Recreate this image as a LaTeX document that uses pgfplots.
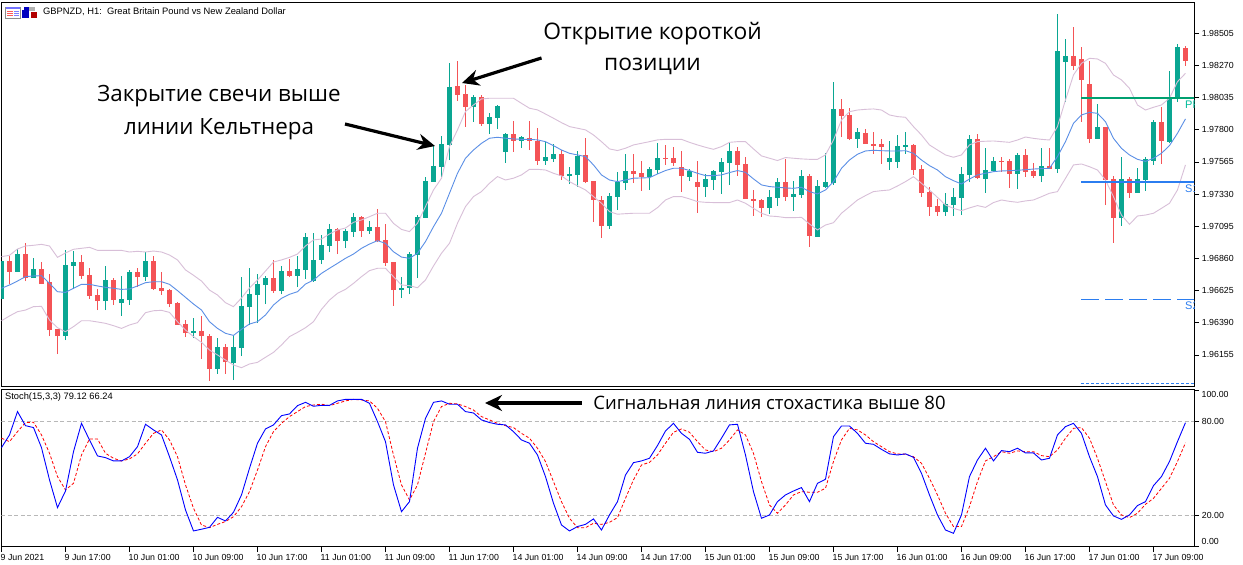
\documentclass[border=0pt]{standalone}
\usepackage{fontspec}
\usepackage{pgfplots}
\usepackage{pgfplotstable}
\pgfplotsset{compat=1.18}
\usetikzlibrary{arrows.meta}
\setmainfont{Liberation Sans}
\newfontfamily\annot{Open Sans}
\definecolor{upc}{HTML}{0AA692}
\definecolor{downc}{HTML}{F45356}
\definecolor{midc}{HTML}{5B8FE6}
\definecolor{bandc}{HTML}{D8BFD8}
\definecolor{ppc}{HTML}{00A070}
\definecolor{sc}{HTML}{2B7DF0}
\pgfplotstableread{
i O H L C
0 1.96564 1.96841 1.96564 1.96841
2 1.96761 1.96929 1.96761 1.96892
4 1.96717 1.96863 1.96717 1.96783
8 1.96293 1.96922 1.96264 1.96812
9 1.96805 1.96914 1.96637 1.96834
13 1.96549 1.96805 1.96483 1.96702
15 1.96534 1.96732 1.96440 1.96564
16 1.96556 1.96776 1.96520 1.96761
18 1.96724 1.96907 1.96695 1.96841
24 1.96315 1.96425 1.96279 1.96330
27 1.96052 1.96279 1.96016 1.96213
29 1.96096 1.96301 1.95972 1.96213
30 1.96206 1.96724 1.96147 1.96513
31 1.96505 1.96790 1.96374 1.96600
32 1.96593 1.96746 1.96388 1.96673
33 1.96666 1.96732 1.96527 1.96717
35 1.96622 1.96805 1.96600 1.96768
37 1.96732 1.96878 1.96651 1.96783
38 1.96776 1.97046 1.96710 1.97017
39 1.96695 1.97046 1.96688 1.96849
40 1.96849 1.97031 1.96819 1.96958
41 1.96951 1.97112 1.96907 1.97075
43 1.96987 1.97075 1.96936 1.97060
44 1.97053 1.97192 1.97017 1.97163
46 1.97060 1.97133 1.97039 1.97090
50 1.96629 1.96724 1.96571 1.96644
51 1.96644 1.96907 1.96600 1.96892
52 1.96885 1.97177 1.96717 1.97163
53 1.97156 1.97455 1.97156 1.97426
54 1.97419 1.97689 1.97419 1.97536
55 1.97528 1.97755 1.97455 1.97696
56 1.97689 1.98288 1.97579 1.98113
59 1.97967 1.98054 1.97857 1.98040
61 1.97842 1.97923 1.97769 1.97894
62 1.97886 1.97981 1.97806 1.97974
63 1.97638 1.97777 1.97558 1.97769
65 1.97718 1.97755 1.97667 1.97747
68 1.97572 1.97711 1.97543 1.97601
69 1.97587 1.97696 1.97565 1.97623
71 1.97463 1.97528 1.97404 1.97477
72 1.97470 1.97645 1.97382 1.97609
76 1.97097 1.97338 1.97075 1.97316
77 1.97309 1.97492 1.97214 1.97419
78 1.97411 1.97623 1.97360 1.97499
81 1.97455 1.97528 1.97360 1.97514
82 1.97506 1.97704 1.97477 1.97594
86 1.97455 1.97514 1.97426 1.97499
88 1.97382 1.97477 1.97309 1.97441
89 1.97433 1.97506 1.97360 1.97499
90 1.97492 1.97594 1.97331 1.97565
91 1.97558 1.97704 1.97397 1.97645
96 1.97229 1.97360 1.97185 1.97309
97 1.97302 1.97448 1.97243 1.97419
99 1.97309 1.97426 1.97207 1.97331
100 1.97324 1.97506 1.97302 1.97462
102 1.97017 1.97433 1.97017 1.97389
103 1.97382 1.97630 1.97375 1.97418
104 1.97411 1.98149 1.97397 1.97952
107 1.97733 1.97813 1.97667 1.97784
111 1.97565 1.97718 1.97506 1.97594
112 1.97565 1.97762 1.97521 1.97681
113 1.97674 1.97784 1.97623 1.97689
118 1.97199 1.97338 1.97170 1.97258
119 1.97250 1.97375 1.97170 1.97309
120 1.97302 1.97528 1.97177 1.97477
121 1.97470 1.97762 1.97418 1.97733
123 1.97440 1.97667 1.97338 1.97506
124 1.97499 1.97601 1.97492 1.97572
127 1.97477 1.97630 1.97367 1.97616
130 1.97462 1.97667 1.97418 1.97535
132 1.97513 1.98646 1.97484 1.98375
133 1.98295 1.98463 1.98003 1.98339
137 1.97733 1.97988 1.97733 1.97820
140 1.97156 1.97601 1.97097 1.97440
142 1.97338 1.97521 1.97338 1.97440
143 1.97433 1.97601 1.97353 1.97587
144 1.97572 1.97871 1.97543 1.97857
146 1.97711 1.98229 1.97703 1.98032
147 1.98032 1.98427 1.98003 1.98405
}\upcandles
\pgfplotstableread{
i O H L C
1 1.96841 1.96878 1.96673 1.96761
3 1.96892 1.96973 1.96695 1.96717
5 1.96783 1.96834 1.96673 1.96673
6 1.96688 1.96746 1.96293 1.96337
7 1.96345 1.96345 1.96162 1.96293
10 1.96834 1.96885 1.96710 1.96732
11 1.96739 1.96790 1.96564 1.96586
12 1.96593 1.96637 1.96483 1.96549
14 1.96702 1.96717 1.96520 1.96556
17 1.96761 1.96790 1.96651 1.96724
19 1.96841 1.96878 1.96629 1.96637
20 1.96644 1.96761 1.96593 1.96622
21 1.96629 1.96637 1.96505 1.96527
22 1.96534 1.96542 1.96374 1.96374
23 1.96381 1.96410 1.96286 1.96315
25 1.96330 1.96440 1.96125 1.96293
26 1.96293 1.96308 1.95965 1.96052
28 1.96213 1.96235 1.96016 1.96103
34 1.96717 1.96849 1.96608 1.96622
36 1.96768 1.96856 1.96724 1.96732
42 1.97075 1.97082 1.96892 1.96987
45 1.97163 1.97170 1.97017 1.97060
47 1.97090 1.97221 1.96980 1.96987
48 1.96995 1.97112 1.96805 1.96827
49 1.96834 1.96834 1.96513 1.96629
57 1.98120 1.98303 1.98010 1.98054
58 1.98062 1.98127 1.97821 1.97967
60 1.98040 1.98054 1.97828 1.97842
64 1.97769 1.97864 1.97638 1.97718
66 1.97740 1.97864 1.97652 1.97718
67 1.97718 1.97813 1.97543 1.97572
70 1.97623 1.97652 1.97433 1.97463
73 1.97616 1.97740 1.97411 1.97419
74 1.97426 1.97426 1.97127 1.97287
75 1.97287 1.97316 1.97010 1.97097
79 1.97499 1.97623 1.97411 1.97477
80 1.97484 1.97572 1.97353 1.97455
83 1.97594 1.97689 1.97543 1.97587
84 1.97594 1.97674 1.97536 1.97558
85 1.97528 1.97645 1.97346 1.97463
87 1.97419 1.97572 1.97192 1.97382
92 1.97645 1.97674 1.97463 1.97543
93 1.97550 1.97601 1.97295 1.97295
94 1.97295 1.97360 1.97170 1.97280
95 1.97287 1.97295 1.97163 1.97229
98 1.97419 1.97587 1.97280 1.97309
101 1.97462 1.97477 1.96944 1.97024
105 1.97952 1.98025 1.97747 1.97901
106 1.97908 1.97959 1.97725 1.97733
108 1.97776 1.97806 1.97696 1.97696
109 1.97696 1.97784 1.97623 1.97681
110 1.97696 1.97733 1.97550 1.97674
114 1.97689 1.97696 1.97470 1.97506
115 1.97513 1.97543 1.97309 1.97338
116 1.97345 1.97382 1.97170 1.97236
117 1.97243 1.97294 1.97170 1.97199
122 1.97733 1.97769 1.97440 1.97448
125 1.97572 1.97601 1.97492 1.97565
126 1.97572 1.97587 1.97375 1.97477
128 1.97616 1.97660 1.97455 1.97492
129 1.97499 1.97557 1.97448 1.97462
131 1.97535 1.97667 1.97513 1.97513
134 1.98339 1.98551 1.98237 1.98266
135 1.98317 1.98405 1.97857 1.98164
136 1.98134 1.98302 1.97703 1.97733
138 1.97820 1.97820 1.97250 1.97433
139 1.97440 1.97462 1.96973 1.97156
141 1.97440 1.97455 1.97302 1.97338
145 1.97857 1.97966 1.97550 1.97718
148 1.98397 1.98412 1.98266 1.98302
}\downcandles
\pgfplotstableread{
i up mid low
0 1.96873 1.96642 1.96405
1 1.96883 1.96666 1.96440
2 1.96929 1.96695 1.96471
3 1.96951 1.96727 1.96483
4 1.96956 1.96732 1.96508
5 1.96963 1.96734 1.96510
6 1.96951 1.96678 1.96410
7 1.96868 1.96617 1.96354
8 1.96900 1.96612 1.96325
9 1.96927 1.96642 1.96362
10 1.96934 1.96671 1.96405
11 1.96941 1.96671 1.96405
12 1.96919 1.96659 1.96396
13 1.96919 1.96649 1.96386
14 1.96919 1.96642 1.96369
15 1.96919 1.96634 1.96349
16 1.96907 1.96637 1.96374
17 1.96912 1.96659 1.96391
18 1.96907 1.96683 1.96464
19 1.96914 1.96690 1.96478
20 1.96907 1.96690 1.96481
21 1.96885 1.96671 1.96466
22 1.96849 1.96625 1.96398
23 1.96776 1.96576 1.96337
24 1.96737 1.96527 1.96289
25 1.96695 1.96483 1.96247
26 1.96629 1.96398 1.96191
27 1.96593 1.96349 1.96155
28 1.96537 1.96313 1.96118
29 1.96508 1.96298 1.96082
30 1.96571 1.96342 1.96062
31 1.96644 1.96381 1.96089
32 1.96702 1.96398 1.96101
33 1.96768 1.96447 1.96138
34 1.96834 1.96520 1.96174
35 1.96849 1.96569 1.96228
36 1.96868 1.96598 1.96289
37 1.96892 1.96617 1.96320
38 1.96951 1.96673 1.96354
39 1.96995 1.96702 1.96398
40 1.97002 1.96751 1.96488
41 1.97039 1.96788 1.96556
42 1.97068 1.96824 1.96605
43 1.97082 1.96861 1.96634
44 1.97124 1.96892 1.96678
45 1.97141 1.96934 1.96727
46 1.97165 1.96965 1.96771
47 1.97190 1.96990 1.96788
48 1.97190 1.96970 1.96788
49 1.97116 1.96909 1.96727
50 1.97072 1.96870 1.96666
51 1.97056 1.96861 1.96661
52 1.97117 1.96898 1.96646
53 1.97239 1.96983 1.96703
54 1.97360 1.97092 1.96805
55 1.97446 1.97190 1.96898
56 1.97677 1.97336 1.96971
57 1.97799 1.97482 1.97117
58 1.97933 1.97592 1.97239
59 1.97981 1.97652 1.97312
60 1.98025 1.97701 1.97348
61 1.98030 1.97738 1.97409
62 1.98030 1.97745 1.97458
63 1.98030 1.97738 1.97433
64 1.98030 1.97733 1.97446
65 1.97993 1.97730 1.97470
66 1.97957 1.97730 1.97511
67 1.97945 1.97726 1.97511
68 1.97915 1.97713 1.97506
69 1.97884 1.97684 1.97482
70 1.97852 1.97652 1.97463
71 1.97823 1.97628 1.97421
72 1.97811 1.97616 1.97390
73 1.97799 1.97604 1.97360
74 1.97762 1.97543 1.97312
75 1.97713 1.97470 1.97263
76 1.97660 1.97433 1.97202
77 1.97648 1.97421 1.97183
78 1.97665 1.97433 1.97187
79 1.97689 1.97446 1.97190
80 1.97701 1.97448 1.97190
81 1.97713 1.97450 1.97190
82 1.97726 1.97477 1.97231
83 1.97730 1.97502 1.97287
84 1.97730 1.97519 1.97312
85 1.97730 1.97519 1.97312
86 1.97708 1.97502 1.97295
87 1.97689 1.97482 1.97275
88 1.97672 1.97465 1.97270
89 1.97657 1.97465 1.97268
90 1.97677 1.97470 1.97268
91 1.97708 1.97487 1.97268
92 1.97713 1.97502 1.97287
93 1.97713 1.97489 1.97263
94 1.97660 1.97441 1.97226
95 1.97609 1.97397 1.97190
96 1.97592 1.97385 1.97170
97 1.97575 1.97380 1.97166
98 1.97597 1.97375 1.97158
99 1.97592 1.97372 1.97158
100 1.97587 1.97380 1.97160
101 1.97584 1.97348 1.97112
102 1.97584 1.97331 1.97068
103 1.97616 1.97360 1.97104
104 1.97725 1.97421 1.97121
105 1.97871 1.97518 1.97190
106 1.97932 1.97579 1.97238
107 1.97944 1.97621 1.97287
108 1.97949 1.97645 1.97319
109 1.97952 1.97650 1.97348
110 1.97944 1.97647 1.97355
111 1.97908 1.97645 1.97360
112 1.97896 1.97645 1.97389
113 1.97891 1.97647 1.97421
114 1.97823 1.97628 1.97457
115 1.97762 1.97579 1.97409
116 1.97689 1.97538 1.97360
117 1.97652 1.97506 1.97306
118 1.97616 1.97457 1.97250
119 1.97599 1.97428 1.97226
120 1.97616 1.97404 1.97209
121 1.97689 1.97440 1.97229
122 1.97713 1.97470 1.97246
123 1.97716 1.97482 1.97233
124 1.97718 1.97494 1.97268
125 1.97713 1.97499 1.97287
126 1.97708 1.97501 1.97277
127 1.97725 1.97504 1.97270
128 1.97747 1.97508 1.97280
129 1.97737 1.97513 1.97287
130 1.97730 1.97516 1.97311
131 1.97725 1.97518 1.97336
132 1.97823 1.97604 1.97348
133 1.98017 1.97713 1.97445
134 1.98200 1.97847 1.97543
135 1.98285 1.97908 1.97550
136 1.98322 1.97927 1.97530
137 1.98317 1.97920 1.97506
138 1.98285 1.97859 1.97433
139 1.98200 1.97737 1.97311
140 1.98164 1.97664 1.97177
141 1.98103 1.97616 1.97109
142 1.97981 1.97584 1.97170
143 1.97944 1.97569 1.97177
144 1.97964 1.97591 1.97190
145 1.97981 1.97628 1.97226
146 1.98030 1.97684 1.97263
147 1.98151 1.97774 1.97360
148 1.98212 1.97879 1.97543
}\bands
\pgfplotstableread{
i K D
0 63.2 69.2
1 71.3 67.0
2 86.2 73.4
3 77.2 79.2
4 76.0 79.4
5 63.2 71.3
6 42.6 59.6
7 24.9 44.7
8 35.5 36.2
9 60.6 40.4
10 78.7 58.5
11 68.1 68.7
12 57.9 68.7
13 56.8 59.6
14 54.7 56.4
15 54.7 54.7
16 57.4 56.0
17 63.8 59.2
18 78.1 66.0
19 74.5 72.3
20 71.3 74.5
21 57.4 68.1
22 42.6 57.4
23 23.4 39.4
24 10.0 24.5
25 11.1 13.8
26 12.3 12.1
27 18.7 14.2
28 16.4 16.0
29 21.9 19.1
30 33.0 25.5
31 50.0 35.1
32 66.0 48.9
33 75.1 63.8
34 77.7 73.4
35 83.6 78.7
36 84.7 83.0
37 90.0 86.2
38 92.1 89.4
39 89.6 90.4
40 90.2 90.9
41 90.2 90.0
42 93.0 91.5
43 94.0 93.0
44 94.0 94.0
45 94.0 93.6
46 91.5 93.0
47 79.8 88.3
48 67.0 79.8
49 39.4 58.5
50 22.3 39.4
51 28.7 29.8
52 62.8 39.4
53 81.9 59.6
54 92.1 79.8
55 93.0 89.4
56 90.9 91.5
57 90.9 91.1
58 86.2 89.4
59 85.3 87.2
60 80.9 83.0
61 79.2 80.9
62 78.1 78.7
63 77.7 77.2
64 73.4 76.0
65 68.1 72.3
66 66.0 69.2
67 58.5 62.8
68 44.7 54.3
69 27.7 41.5
70 13.8 28.7
71 10.0 18.1
72 12.8 12.1
73 14.2 12.1
74 17.7 14.9
75 10.6 14.2
76 20.2 15.5
77 28.7 18.5
78 45.7 30.8
79 53.6 42.6
80 54.7 52.1
81 56.4 53.8
82 64.5 58.5
83 73.8 66.0
84 78.7 73.0
85 72.3 75.1
86 68.5 73.0
87 60.2 67.0
88 59.6 61.7
89 61.1 60.6
90 69.2 62.8
91 77.7 68.1
92 78.1 74.5
93 58.5 71.3
94 35.1 59.6
95 18.1 41.5
96 20.2 26.6
97 28.7 21.3
98 33.0 26.6
99 35.5 33.0
100 37.7 35.1
101 28.7 34.7
102 40.4 34.7
103 43.0 37.2
104 70.2 54.3
105 77.0 68.1
106 77.0 75.5
107 72.3 74.5
108 66.0 71.3
109 65.3 67.0
110 62.1 63.8
111 59.2 60.6
112 58.5 59.2
113 59.2 59.0
114 57.0 57.4
115 46.8 53.2
116 33.0 43.6
117 20.2 33.0
118 10.6 21.3
119 8.5 12.8
120 20.2 12.8
121 44.7 25.5
122 55.3 41.5
123 62.8 54.7
124 54.7 57.4
125 61.3 60.6
126 60.6 59.6
127 62.8 61.1
128 59.8 60.6
129 59.8 60.6
130 55.3 58.1
131 56.4 57.4
132 71.3 61.7
133 76.6 69.2
134 78.7 75.5
135 72.3 76.0
136 57.4 69.2
137 44.7 56.4
138 26.6 41.5
139 19.6 26.6
140 17.4 20.2
141 20.2 18.5
142 26.2 21.3
143 28.7 27.0
144 38.9 30.8
145 44.7 37.2
146 54.3 43.6
147 67.0 54.3
148 79.12 66.24
}\stoch
\pgfplotsset{
  panel/.style={scale only axis, width=1192.7pt, xmin=0, xmax=149.09,
    axis line style={black, line width=1pt}, tick style={black, line width=0.8pt},
    tick align=outside, major tick length=5pt,
    ytick pos=right, yticklabel pos=right,
    tick label style={font=\fontsize{8.8}{10}\selectfont, inner sep=0pt},
    yticklabel style={anchor=west, xshift=2.5pt}},
  candlewick/.style={#1, solid, line width=1pt, mark=none, forget plot,
    quiver={u=0, v=\thisrow{H}-\thisrow{L}}},
  candlebody/.style={draw=none, mark=none, forget plot,
    error bars/.cd, y dir=plus, y explicit, error mark=none,
    error bar style={draw=#1, color=#1, solid, line width=5pt, line cap=butt}},
}
\begin{document}
\begin{tikzpicture}[x=1pt,y=1pt]
\path[use as bounding box, fill=white] (0,0) rectangle (1243,565);
\begin{axis}[panel, at={(1.5pt,178pt)}, anchor=south west, height=384.3pt,
  ymin=1.95921, ymax=1.98728, xtick=\empty,
  ytick={1.96155,1.96390,1.96625,1.96860,1.97095,1.97330,1.97565,1.97800,1.98035,1.98270,1.98505},
  yticklabels={1.96155,1.96390,1.96625,1.96860,1.97095,1.97330,1.97565,1.97800,1.98035,1.98270,1.98505}]
% wicks
\addplot[candlewick=upc] table[x=i, y=L] {\upcandles};
\addplot[candlewick=downc] table[x=i, y=L] {\downcandles};
% bodies
\addplot[candlebody=upc] table[x=i, y=O, y error plus expr=\thisrow{C}-\thisrow{O}] {\upcandles};
\addplot[candlebody=downc] table[x=i, y=C, y error plus expr=\thisrow{O}-\thisrow{C}] {\downcandles};
% Keltner channel
\addplot[bandc, line width=0.9pt] table[x=i, y=up] {\bands};
\addplot[bandc, line width=0.9pt] table[x=i, y=low] {\bands};
\addplot[midc, line width=0.9pt] table[x=i, y=mid] {\bands};
% pivot levels
\addplot[ppc, line width=2pt] coordinates {(135,1.98035) (150,1.98035)};
\addplot[sc, line width=2pt] coordinates {(135,1.97419) (150,1.97419)};
\addplot[sc, line width=0.9pt, dash pattern=on 18pt off 6pt] coordinates {(135,1.96562) (150,1.96562)};
\addplot[sc, line width=0.9pt, dash pattern=on 3pt off 2pt] coordinates {(135,1.95948) (150,1.95948)};
\end{axis}
\begin{axis}[panel, at={(1.5pt,18pt)}, anchor=south west, height=157.5pt,
  ymin=-0.25, ymax=100.3,
  xtick={0,8,...,144}, xtick pos=lower,
  xticklabels={9 Jun 2021,9 Jun 17:00,10 Jun 01:00,10 Jun 09:00,10 Jun 17:00,11 Jun 01:00,11 Jun 09:00,11 Jun 17:00,14 Jun 01:00,14 Jun 09:00,14 Jun 17:00,15 Jun 01:00,15 Jun 09:00,15 Jun 17:00,16 Jun 01:00,16 Jun 09:00,16 Jun 17:00,17 Jun 01:00,17 Jun 09:00},
  xticklabel style={anchor=west, yshift=-5.5pt, xshift=-1pt},
  ytick={0,20,80,100}, yticklabels={,20.00,80.00,}]
\addplot[black!28, line width=0.8pt, dash pattern=on 4pt off 2.5pt] coordinates {(0,80) (150,80)};
\addplot[black!28, line width=0.8pt, dash pattern=on 4pt off 2.5pt] coordinates {(0,20) (150,20)};
\addplot[red, line width=0.8pt, dash pattern=on 3pt off 2pt] table[x=i, y=D] {\stoch};
\addplot[blue, line width=0.9pt] table[x=i, y=K] {\stoch};
\end{axis}
% pivot names, cut by the frame
\begin{scope}
\clip (1081,178) rectangle (1194,563);
\node[anchor=west, inner sep=0pt, text=ppc!70!cyan, font=\fontsize{11}{12}\selectfont] at (1185,460) {PP};
\node[anchor=west, inner sep=0pt, text=sc, font=\fontsize{11}{12}\selectfont] at (1185,376) {S1};
\node[anchor=west, inner sep=0pt, text=sc, font=\fontsize{11}{12}\selectfont] at (1185,259) {S2};
\node[anchor=west, inner sep=0pt, text=sc, font=\fontsize{11}{12}\selectfont] at (1185,173) {S3};
\end{scope}
% end labels
\node[anchor=west, inner sep=0pt, font=\fontsize{8.8}{10}\selectfont] at (1201.5,170.5) {100.00};
\node[anchor=west, inner sep=0pt, font=\fontsize{8.8}{10}\selectfont] at (1201.5,24) {0.00};
% title and icons
\node[anchor=west, inner sep=0pt, font=\fontsize{9.35}{11}\selectfont] at (43,553) {GBPNZD, H1:\ \ Great Britain Pound vs New Zealand Dollar};
\node[anchor=west, inner sep=0pt, font=\fontsize{9.3}{11}\selectfont] at (5,167.5) {Stoch(15,3,3) 79.12 66.24};
\fill[white, draw=black!45, line width=0.7pt] (5.5,547) rectangle (20,558);
\fill[blue!55] (5.5,555.5) rectangle (20,558);
\foreach \yy in {548.5,550.5,552.5}{\fill[red!65] (7,\yy) rectangle (12.5,\yy+1); \fill[blue!50] (13.5,\yy) rectangle (18.5,\yy+1);}
\fill[blue!75!black] (22,547) rectangle (28.5,555);
\fill[red!70!black] (30.5,547) rectangle (37,553);
\fill[blue!75!black] (24,555) rectangle (28.5,558);
\fill[black!30] (29,553.5) rectangle (35,558);
% annotations
\node[font=\annot\fontsize{22.8}{26}\selectfont, inner sep=0pt] at (652.5,531) {Открытие короткой};
\node[font=\annot\fontsize{22.8}{26}\selectfont, inner sep=0pt] at (652.5,499) {позиции};
\node[font=\annot\fontsize{22.4}{26}\selectfont, inner sep=0pt] at (219,469) {Закрытие свечи выше};
\node[font=\annot\fontsize{22.4}{26}\selectfont, inner sep=0pt] at (219,436) {линии Кельтнера};
\node[font=\annot\fontsize{18.5}{22}\selectfont, inner sep=0pt] at (769.5,162) {Сигнальная линия стохастика выше 80};
\draw[line width=3.2pt, -{Stealth[length=17pt,width=16pt]}] (541.5,507) -- (462,482);
\draw[line width=3.2pt, -{Stealth[length=17pt,width=16pt]}] (345,441) -- (435,419);
\draw[line width=3.2pt, -{Stealth[length=17pt,width=16pt]}] (581.5,162) -- (485,162);
\end{tikzpicture}
\end{document}
